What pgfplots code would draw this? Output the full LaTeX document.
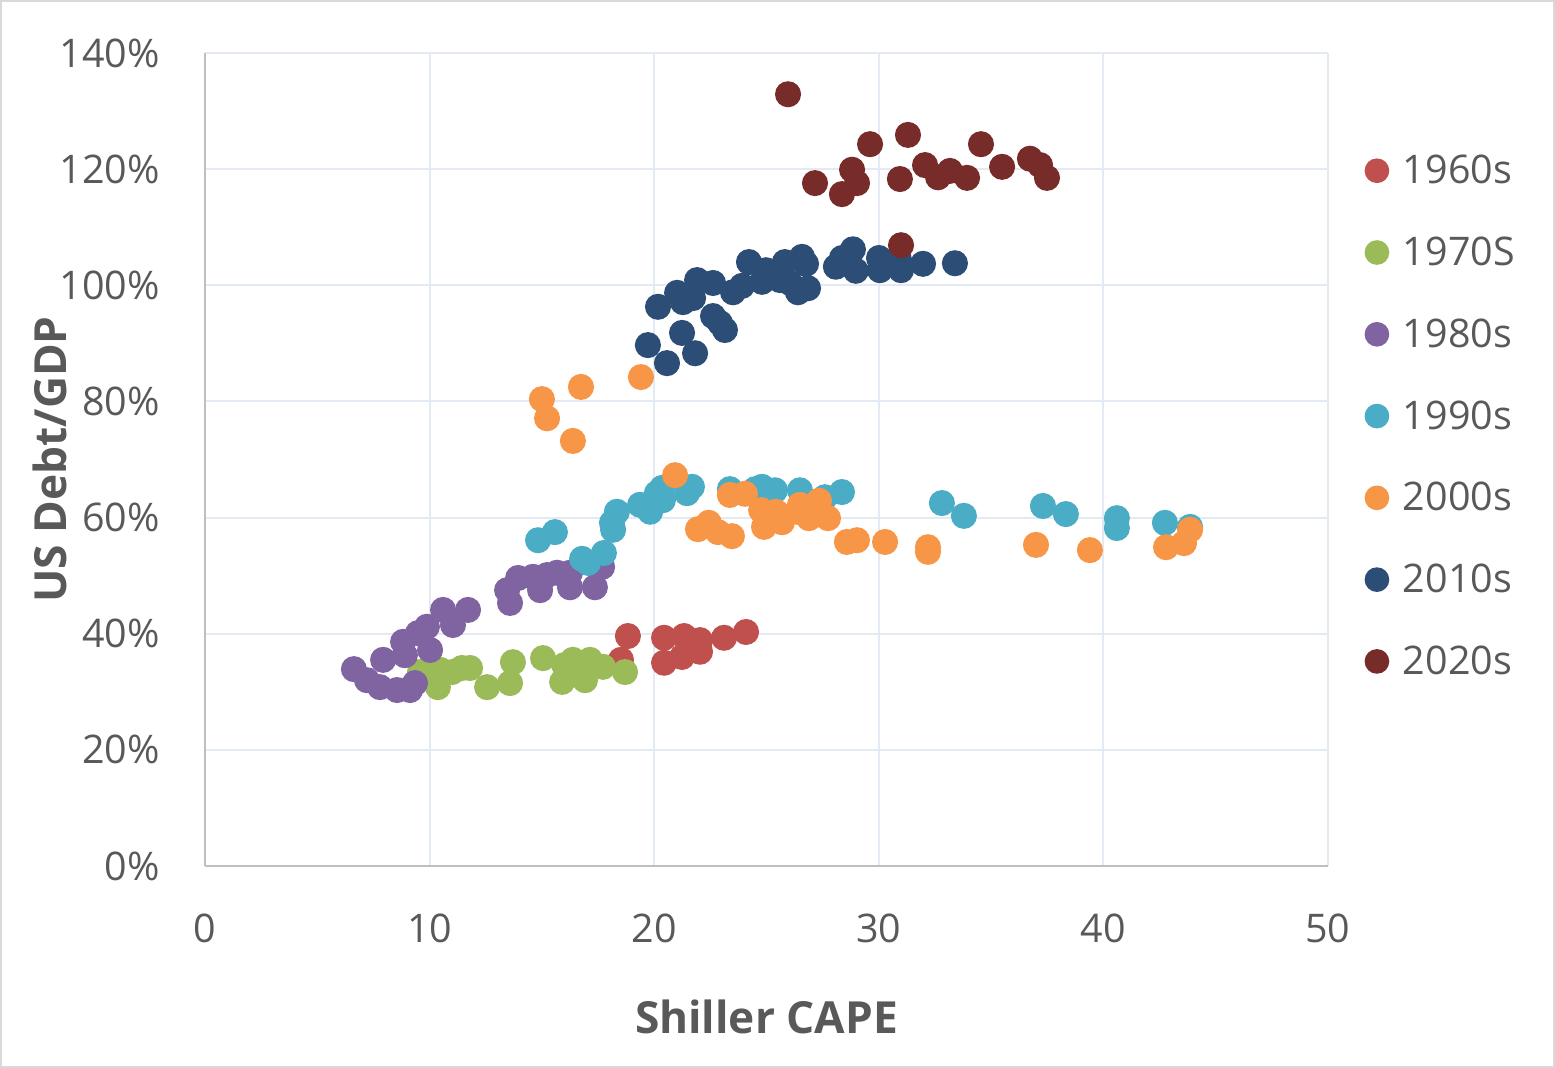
\documentclass[border=0pt]{standalone}
\usepackage{pgfplots}
\pgfplotsset{compat=1.18}
\usepackage{fontspec}
\setmainfont{Open Sans}
\definecolor{c60}{HTML}{C0504D}
\definecolor{c70}{HTML}{9BBB59}
\definecolor{c80}{HTML}{8064A2}
\definecolor{c90}{HTML}{4BACC6}
\definecolor{c00}{HTML}{F79646}
\definecolor{c10}{HTML}{2C4D75}
\definecolor{c20}{HTML}{772C2A}
\definecolor{textgray}{HTML}{595959}
\definecolor{axisgray}{HTML}{BFBFBF}
\definecolor{gridcol}{HTML}{E4EAF3}
\definecolor{framegray}{HTML}{D9D9D9}
\begin{document}
\begin{tikzpicture}
\useasboundingbox (0,0) rectangle (453.5pt,311.47pt);
\draw[color=framegray, line width=0.7pt] (0.35pt,0.35pt) rectangle (453.15pt,311.12pt);
\begin{axis}[
  at={(59.79pt,58.91pt)}, anchor=south west,
  scale only axis, width=327.5pt, height=237.1pt,
  xmin=0, xmax=50, ymin=0, ymax=140,
  axis lines*=left,
  axis line style={draw=axisgray, line width=0.7pt},
  xtick={0,10,20,30,40,50},
  xticklabels={0,10,20,30,40,50},
  ytick={0,20,40,60,80,100,120,140},
  yticklabels={0\%,20\%,40\%,60\%,80\%,100\%,120\%,140\%},
  major tick length=0pt,
  grid=major,
  major grid style={draw=gridcol, line width=0.6pt},
  tick label style={font=\fontsize{11.5}{13}\selectfont, text=textgray},
  yticklabel style={inner sep=0pt, anchor=east, xshift=-13pt},
  xticklabel style={inner sep=0pt, anchor=north, yshift=-13.8pt},
  xlabel={Shiller CAPE},
  ylabel={US Debt/GDP},
  label style={font=\bfseries\fontsize{12.9}{15}\selectfont, text=textgray},
  xlabel style={at={(axis description cs:0.5,-0.1636)}, anchor=north, inner sep=0pt},
  ylabel style={at={(axis description cs:-0.138,0.5)}, anchor=center, inner sep=0pt},
  legend style={at={(1.032,0.5547)}, anchor=west, draw=none, fill=none,
    inner sep=0pt, row sep=15.65pt, column sep=4pt,
    font=\fontsize{11.5}{13}\selectfont, text=textgray,
    nodes={inner sep=0pt, text height=8.2pt, text depth=0pt}},
  legend cell align=left,
  legend image code/.code={\fill[#1, draw=none] (3.6pt,-0.3pt) circle (3.6pt);},
  every axis plot/.append style={only marks, mark=*, mark size=3.6pt},
]
\addplot[color=c60, mark options={draw=none, fill=c60}] coordinates {
(18.83,39.6) (18.52,35.5) (20.44,39.3) (20.44,35.0) (21.33,39.6) (21.24,36.0)
(22.04,38.9) (22.04,36.9) (23.11,39.3) (24.09,40.3)
};
\addlegendentry{1960s}
\addplot[color=c70, mark options={draw=none, fill=c70}] coordinates {
(9.57,33.4) (10.37,30.8) (10.46,33.8) (11.0,33.4) (11.44,34.1) (11.8,34.1)
(12.56,30.8) (13.58,31.5) (13.71,35.1) (15.05,35.8) (15.9,31.7) (16.0,34.6)
(16.38,35.5) (16.92,32.0) (17.14,35.5) (17.72,34.3) (18.7,33.4)
};
\addlegendentry{1970S}
\addplot[color=c80, mark options={draw=none, fill=c80}] coordinates {
(6.63,33.9) (7.21,32.0) (7.79,30.8) (7.93,35.5) (8.55,30.3) (9.13,30.3)
(9.35,31.5) (8.82,38.6) (8.9,36.3) (9.48,40.1) (10.02,37.2) (9.88,41.2)
(10.6,44.1) (11.04,41.5) (11.71,44.1) (13.45,47.5) (13.58,45.3) (13.94,49.6)
(14.6,49.8) (14.92,47.5) (15.23,50.1) (15.67,50.5) (16.25,48.0) (16.25,50.5)
(17.36,48.0) (17.68,51.5)
};
\addlegendentry{1980s}
\addplot[color=c90, mark options={draw=none, fill=c90}] coordinates {
(14.83,56.1) (15.58,57.5) (16.79,52.9) (17.05,52.2) (17.76,53.9) (18.17,57.9)
(18.34,61.0) (18.12,59.1) (19.37,62.2) (19.82,61.0) (20.12,64.2) (20.39,63.0)
(20.35,65.1) (21.46,64.2) (21.68,65.3) (23.37,64.9) (24.5,64.9) (24.8,65.3)
(25.38,64.7) (26.49,64.7) (27.6,63.5) (28.36,64.4) (32.81,62.5) (33.79,60.3)
(37.31,62.0) (38.33,60.6) (40.6,59.9) (40.6,58.2) (42.74,59.1) (43.86,58.4)
};
\addlegendentry{1990s}
\addplot[color=c00, mark options={draw=none, fill=c00}] coordinates {
(15.00,80.4) (15.23,77.1) (16.38,73.2) (16.74,82.5) (19.41,84.2) (20.93,67.3)
(23.37,63.9) (24.04,64.1) (21.95,58.0) (22.43,59.1) (22.84,57.5) (23.46,56.8)
(24.76,61.3) (24.89,58.4) (25.42,61.0) (25.69,59.2) (26.36,61.0) (26.49,62.2)
(26.89,59.9) (27.34,62.9) (27.74,59.9) (28.58,55.8) (29.03,56.1) (30.28,55.8)
(32.19,54.9) (32.19,54.1) (37.0,55.3) (39.4,54.4) (42.79,54.9) (43.59,55.6)
(43.86,57.9)
};
\addlegendentry{2000s}
\addplot[color=c10, mark options={draw=none, fill=c10}] coordinates {
(19.72,89.7) (20.17,96.3) (20.57,86.6) (21.02,98.7) (21.24,91.8) (21.28,97.1)
(21.82,88.3) (21.91,100.9) (21.73,97.8) (22.62,100.4) (22.62,94.7) (22.93,93.5)
(23.15,92.3) (23.51,98.8) (23.91,99.9) (24.22,104.0) (24.8,100.6) (24.98,102.6)
(25.82,104.0) (25.6,100.9) (26.05,100.4) (26.58,104.9) (26.76,103.7) (26.4,98.8)
(26.85,99.5) (28.09,103.2) (28.36,104.7) (28.85,106.2) (28.98,102.5) (30.01,104.7)
(30.05,102.6) (30.99,102.6) (30.9,104.4) (31.97,103.7) (33.39,103.8)
};
\addlegendentry{2010s}
\addplot[color=c20, mark options={draw=none, fill=c20}] coordinates {
(25.96,132.9) (27.16,117.6) (28.36,115.7) (28.81,119.9) (29.03,117.6) (29.61,124.3)
(30.94,118.3) (31.3,125.9) (30.99,106.9) (32.06,120.7) (32.64,118.6) (33.17,119.7)
(33.93,118.5) (34.55,124.3) (35.49,120.4) (36.73,121.8) (37.18,120.7) (37.49,118.5)
};
\addlegendentry{2020s}
\end{axis}
\end{tikzpicture}
\end{document}
